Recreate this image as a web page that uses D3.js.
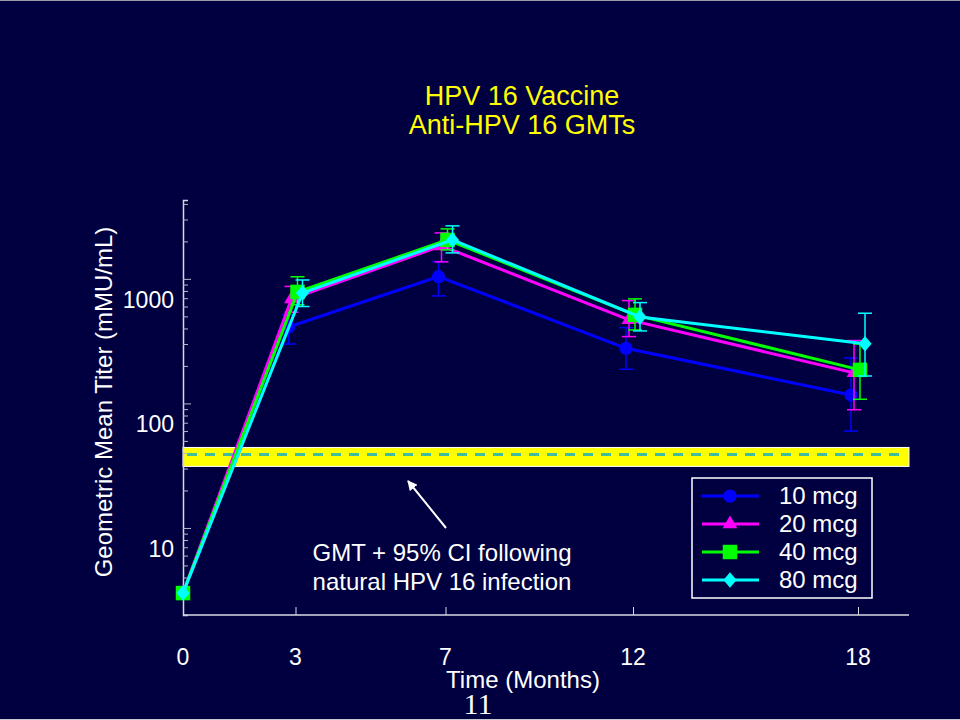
<!DOCTYPE html>
<html><head><meta charset="utf-8">
<script src="https://cdn.jsdelivr.net/npm/d3@7"></script>
<style>
html,body{margin:0;padding:0;background:#000040;}
svg{display:block;}
text{font-family:"Liberation Sans",Arial,sans-serif;}
</style></head>
<body>
<script>
// ---- data ----
const months = [0, 3, 7, 12, 18];
const seriesNames = ["10 mcg", "20 mcg", "40 mcg", "80 mcg"];
const gmt10 = [3, 411, 1043, 277, 117];
const lo10  = [null, 300, 730, 188, 60];
const hi10  = [null, 515, 1377, 406, 232];
const gmt20 = [3, 690, 1840, 469, 176];
const lo20  = [null, 540, 1370, 344, 89];
const hi20  = [null, 870, 2340, 669, 320];
const gmt40 = [3, 786, 2056, 514, 186];
const lo40  = [null, 620, 1710, 389, 108];
const hi40  = [null, 1040, 2520, 691, 300];
const gmt80 = [3, 772, 2056, 495, 301];
const lo80  = [null, 600, 1617, 382, 166];
const hi80  = [null, 980, 2666, 645, 530];
const naturalGMT = 38.9, naturalLo = 31.2, naturalHi = 44.3;
const yTickLabels = [10, 100, 1000];
const yMinorTicks = [2,3,4,5,6,7,8,9,20,30,40,50,60,70,80,90,200,300,400,500,600,700,800,900,2000,3000,4000];
const xTickLabels = [0, 3, 7, 12, 18];
const titleLines = ["HPV 16 Vaccine", "Anti-HPV 16 GMTs"];
const noteLines = ["GMT + 95% CI following", "natural HPV 16 infection"];

// ---- styles ----
const colors = ["#0000ff", "#ff00ff", "#00ff00", "#00ffff"];
const shapes = [d3.symbolCircle, d3.symbolTriangle, d3.symbolSquare, d3.symbolSquare];
const sizes = [135, 95, 210, 120];
const shapeTf = ["", "", "", " rotate(45)"];
const jitter = [-7, -4, 2, 7];

const series = [
  {gmt: gmt10, lo: lo10, hi: hi10},
  {gmt: gmt20, lo: lo20, hi: hi20},
  {gmt: gmt40, lo: lo40, hi: hi40},
  {gmt: gmt80, lo: lo80, hi: hi80}
];

const W = 960, H = 720;
const svg = d3.select("body").append("svg").attr("width", W).attr("height", H);
svg.append("rect").attr("width", W).attr("height", H).attr("fill", "#000040");
svg.append("line").attr("x1", 0).attr("x2", W).attr("y1", 0.5).attr("y2", 0.5).attr("stroke", "#9a9aa8");
svg.append("line").attr("x1", 0).attr("x2", W).attr("y1", H - 0.5).attr("y2", H - 0.5).attr("stroke", "#c8c8d0");

const x = d3.scaleLinear().domain([0, 18]).range([183, 858]);
const y = d3.scaleLog().domain([2, 4300]).range([615, 200]);
const xRight = 909;

// title
svg.selectAll("text.title").data(titleLines).enter().append("text")
  .attr("x", 522).attr("y", (d, i) => 105 + i * 29)
  .attr("text-anchor", "middle").attr("fill", "#ffff00")
  .style("font-size", "27px").text(d => d);

// natural infection band
svg.append("rect")
  .attr("x", x(0)).attr("width", xRight - x(0))
  .attr("y", y(naturalHi)).attr("height", y(naturalLo) - y(naturalHi))
  .attr("fill", "#ffff00").attr("stroke", "#ffffff").attr("stroke-width", 1);
svg.append("line")
  .attr("x1", x(0) + 4).attr("x2", xRight - 4)
  .attr("y1", y(naturalGMT)).attr("y2", y(naturalGMT))
  .attr("stroke", "#40bca0").attr("stroke-width", 3).attr("stroke-dasharray", "10,8");

// y axis
const yAxis = d3.axisRight(y).tickValues(yTickLabels.concat(yMinorTicks))
  .tickFormat("").tickSizeOuter(0).tickSize(5);
const gy = svg.append("g").attr("transform", `translate(${x(0)},0)`).call(yAxis);
gy.select(".domain").attr("stroke", "#d8d8e0").attr("stroke-width", 1.5);
gy.selectAll(".tick line").attr("stroke", "#b8b8c8")
  .attr("x2", d => (yTickLabels.includes(d) ? 8 : 5));
svg.selectAll("text.ylab").data(yTickLabels).enter().append("text")
  .attr("x", 174).attr("y", d => y(d) + 29)
  .attr("text-anchor", "end").attr("fill", "#ffffff")
  .style("font-size", "23px").text(d => d);

// x axis
const xAxis = d3.axisTop(x).tickValues(xTickLabels.filter(d => d > 0)).tickFormat("").tickSize(8).tickSizeOuter(0);
const gx = svg.append("g").attr("transform", "translate(0,615)").call(xAxis);
gx.select(".domain").attr("d", `M${x(0)},0H${xRight}`).attr("stroke", "#d8d8e0").attr("stroke-width", 1.5);
gx.selectAll(".tick line").attr("stroke", "#d8d8e0");
svg.selectAll("text.xlab").data(xTickLabels).enter().append("text")
  .attr("x", d => x(d)).attr("y", 665)
  .attr("text-anchor", "middle").attr("fill", "#ffffff")
  .style("font-size", "23px").text(d => d);
svg.append("text").attr("x", 523).attr("y", 688).attr("text-anchor", "middle")
  .attr("fill", "#ffffff").style("font-size", "24px").text("Time (Months)");
svg.append("text").attr("x", 478).attr("y", 714).attr("text-anchor", "middle")
  .attr("fill", "#ffffff").style("font-family", "'Liberation Serif','Times New Roman',serif")
  .style("font-size", "30px").text("11");

// y axis title
svg.append("text").attr("transform", "translate(112,402) rotate(-90)")
  .attr("text-anchor", "middle").attr("fill", "#ffffff")
  .style("font-size", "24px").text("Geometric Mean Titer (mMU/mL)");

// series
const px = (si, i) => x(months[i]) + (months[i] > 0 ? jitter[si] : 0);
series.forEach((s, si) => {
  const g = svg.append("g");
  const line = d3.line().x((d, i) => px(si, i)).y(d => y(d));
  g.append("path").datum(s.gmt).attr("d", line)
    .attr("fill", "none").attr("stroke", colors[si]).attr("stroke-width", 3);
  months.forEach((m, i) => {
    if (s.lo[i] == null) return;
    const cx = px(si, i);
    g.append("line").attr("x1", cx).attr("x2", cx).attr("y1", y(s.lo[i])).attr("y2", y(s.hi[i]))
      .attr("stroke", colors[si]).attr("stroke-width", 1.5);
    [s.lo[i], s.hi[i]].forEach(v => {
      g.append("line").attr("x1", cx - 7).attr("x2", cx + 7).attr("y1", y(v)).attr("y2", y(v))
        .attr("stroke", colors[si]).attr("stroke-width", 1.5);
    });
  });
  g.selectAll("path.mk").data(s.gmt).enter().append("path")
    .attr("transform", (d, i) => `translate(${px(si, i)},${y(d)})` + (si === 3 ? " scale(0.85,1)" : "") + shapeTf[si])
    .attr("d", d3.symbol().type(shapes[si]).size(sizes[si]))
    .attr("fill", colors[si]);
});

// annotation
svg.selectAll("text.note").data(noteLines).enter().append("text")
  .attr("x", 442).attr("y", (d, i) => 561 + i * 29)
  .attr("text-anchor", "middle").attr("fill", "#ffffff")
  .style("font-size", "24px").text(d => d);
const defs = svg.append("defs");
defs.append("marker").attr("id", "ah").attr("viewBox", "0 0 10 10").attr("refX", 9).attr("refY", 5)
  .attr("markerWidth", 5).attr("markerHeight", 5).attr("orient", "auto")
  .append("path").attr("d", "M0,0L10,5L0,10z").attr("fill", "#ffffff");
svg.append("line").attr("x1", 446).attr("y1", 528).attr("x2", 408).attr("y2", 481)
  .attr("stroke", "#ffffff").attr("stroke-width", 2).attr("marker-end", "url(#ah)");

// legend
const lg = svg.append("g");
lg.append("rect").attr("x", 692).attr("y", 478).attr("width", 180).attr("height", 120)
  .attr("fill", "none").attr("stroke", "#ffffff").attr("stroke-width", 1.5);
seriesNames.forEach((name, si) => {
  const cy = 496 + si * 28;
  lg.append("line").attr("x1", 702).attr("x2", 759).attr("y1", cy).attr("y2", cy)
    .attr("stroke", colors[si]).attr("stroke-width", 3);
  lg.append("path").attr("transform", `translate(730,${cy})` + (si === 3 ? " scale(0.85,1)" : "") + shapeTf[si])
    .attr("d", d3.symbol().type(shapes[si]).size(sizes[si])).attr("fill", colors[si]);
  lg.append("text").attr("x", 779).attr("y", cy + 8).attr("fill", "#ffffff")
    .style("font-size", "24px").text(name);
});
</script>
</body></html>
